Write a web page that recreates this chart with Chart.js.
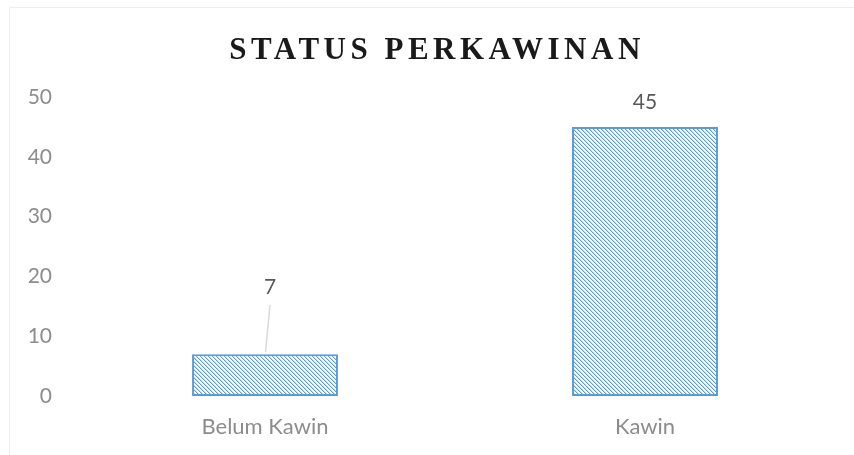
<!DOCTYPE html>
<html>
<head>
<meta charset="utf-8">
<script src="https://cdn.jsdelivr.net/npm/chart.js@4/dist/chart.umd.min.js"></script>
<style>
  html, body { margin: 0; padding: 0; background: #ffffff; }
  #wrap { width: 854px; height: 455px; }
</style>
</head>
<body>
<div id="wrap"><canvas id="c" width="854" height="455"></canvas></div>
<script>
const chartTitle = "STATUS PERKAWINAN";
const categories = ["Belum Kawin", "Kawin"];
const counts = [7, 45];
const yTicks = [0, 10, 20, 30, 40, 50];

const barBlue = "#5B9BD5";

function makeHatch() {
  const t = document.createElement("canvas");
  t.width = 4; t.height = 4;
  const g = t.getContext("2d");
  g.fillStyle = "#ffffff";
  g.fillRect(0, 0, 4, 4);
  for (let y = 0; y < 4; y++) {
    for (let x = 0; x < 4; x++) {
      const m = ((x - y) % 4 + 4) % 4;
      if (m === 0) { g.fillStyle = "#5B9BD5"; g.fillRect(x, y, 1, 1); }
      else if (m === 1) { g.fillStyle = "#C3DAF0"; g.fillRect(x, y, 1, 1); }
    }
  }
  return document.getElementById("c").getContext("2d").createPattern(t, "repeat");
}

const framePlugin = {
  id: "frame",
  beforeDraw(chart) {
    const ctx = chart.ctx;
    ctx.save();
    ctx.fillStyle = "#ffffff";
    ctx.fillRect(0, 0, chart.width, chart.height);
    ctx.strokeStyle = "#eeeeee";
    ctx.lineWidth = 1;
    ctx.beginPath();
    ctx.moveTo(9.5, chart.height);
    ctx.lineTo(9.5, 7.5);
    ctx.lineTo(chart.width, 7.5);
    ctx.stroke();
    ctx.restore();
  }
};

const titlePlugin = {
  id: "spacedTitle",
  afterDraw(chart, args, opts) {
    const ctx = chart.ctx;
    ctx.save();
    ctx.font = opts.font;
    ctx.fillStyle = opts.color;
    ctx.letterSpacing = opts.spacing;
    ctx.textAlign = "center";
    ctx.textBaseline = "alphabetic";
    ctx.fillText(opts.text, opts.x, opts.y);
    ctx.restore();
  }
};

const labelPlugin = {
  id: "barLabels",
  afterDatasetsDraw(chart, args, opts) {
    const ctx = chart.ctx;
    const meta = chart.getDatasetMeta(0);
    ctx.save();
    ctx.font = opts.font;
    ctx.fillStyle = opts.color;
    ctx.textAlign = "center";
    ctx.textBaseline = "middle";
    meta.data.forEach((bar, i) => {
      const st = opts.styles[i];
      const lx = bar.x + st.dx;
      const ly = bar.y - st.dy;
      if (st.leader) {
        ctx.save();
        ctx.strokeStyle = "#d9d9d9";
        ctx.lineWidth = 1.5;
        ctx.beginPath();
        ctx.moveTo(bar.x + 0.5, bar.y - 2);
        ctx.lineTo(lx, ly + 18);
        ctx.stroke();
        ctx.restore();
      }
      ctx.fillText(String(counts[i]), lx, ly);
    });
    ctx.restore();
  }
};

new Chart(document.getElementById("c"), {
  type: "bar",
  data: {
    labels: categories,
    datasets: [{
      data: counts,
      backgroundColor: makeHatch(),
      borderColor: barBlue,
      borderWidth: 2,
      borderSkipped: false,
      barPercentage: 0.384,
      categoryPercentage: 1.0
    }]
  },
  options: {
    responsive: false,
    animation: false,
    devicePixelRatio: 1,
    layout: { padding: { top: 97, right: 19, left: 0, bottom: 0 } },
    plugins: {
      legend: { display: false },
      tooltip: { enabled: false },
      title: { display: false },
      spacedTitle: {
        text: chartTitle,
        font: "bold 31px 'Liberation Serif', 'Times New Roman', serif",
        color: "#1a1a1a",
        spacing: "4.5px",
        x: 437,
        y: 59
      },
      barLabels: {
        font: "21px Lato, 'Open Sans', sans-serif",
        color: "#595959",
        styles: [
          { dx: 5, dy: 67, leader: true },
          { dx: 0, dy: 25, leader: false }
        ]
      }
    },
    scales: {
      x: {
        grid: { display: false, drawTicks: false },
        border: { display: false },
        ticks: {
          color: "#8c8c8c",
          font: { family: "Lato, 'Open Sans', sans-serif", size: 22 },
          padding: 18
        },
        afterFit(scale) { scale.height = 59; }
      },
      y: {
        min: 0,
        max: 50,
        afterBuildTicks(scale) { scale.ticks = yTicks.map(v => ({ value: v })); },
        grid: { display: false, drawTicks: false },
        border: { display: false },
        ticks: {
          color: "#8c8c8c",
          font: { family: "Lato, 'Open Sans', sans-serif", size: 21 },
          padding: 23
        },
        afterFit(scale) { scale.width = 75; }
      }
    }
  },
  plugins: [framePlugin, titlePlugin, labelPlugin]
});
</script>
</body>
</html>
